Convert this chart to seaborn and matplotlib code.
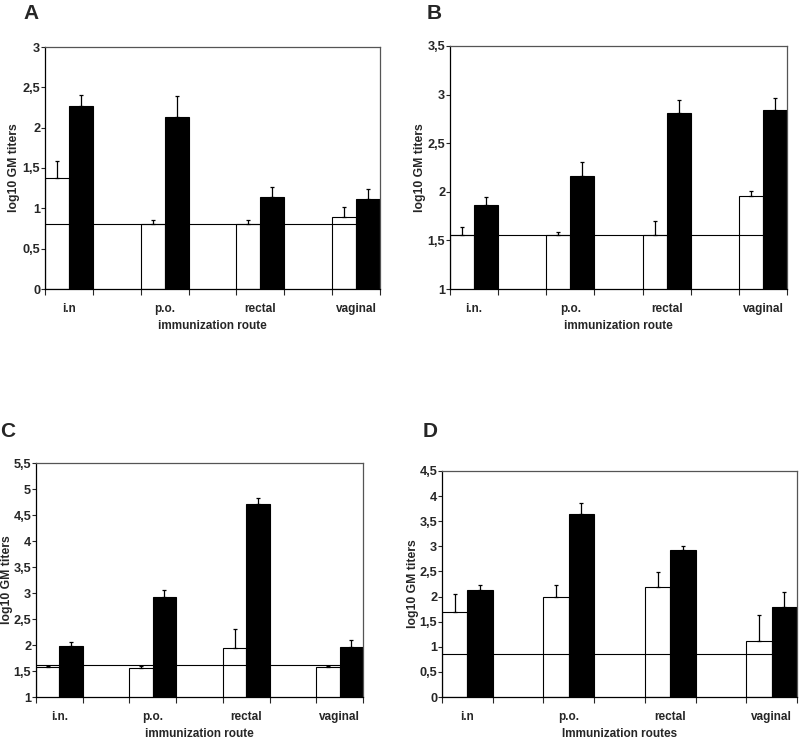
import seaborn as sns
import pandas as pd
import matplotlib.pyplot as plt
from matplotlib.ticker import FixedLocator, FuncFormatter, MultipleLocator

# Immunization routes shown on the x axis of each panel.
routes_a = ["i.n", "p.o.", "rectal", "vaginal"]
routes_b = ["i.n.", "p.o.", "rectal", "vaginal"]
routes_c = ["i.n.", "p.o.", "rectal", "vaginal"]
routes_d = ["i.n", "p.o.", "rectal", "vaginal"]

# log10 GM titers (white = pre-immune, black = post-immunization) and upper error.
a_white = [1.38, 0.80, 0.80, 0.89]
a_white_err = [0.21, 0.05, 0.05, 0.13]
a_black = [2.27, 2.13, 1.14, 1.11]
a_black_err = [0.13, 0.26, 0.12, 0.13]
a_line = 0.80

b_white = [1.56, 1.56, 1.56, 1.96]
b_white_err = [0.08, 0.03, 0.14, 0.05]
b_black = [1.86, 2.16, 2.81, 2.84]
b_black_err = [0.09, 0.15, 0.13, 0.12]
b_line = 1.56

c_white = [1.58, 1.56, 1.94, 1.58]
c_white_err = [0.02, 0.03, 0.37, 0.02]
c_black = [1.99, 2.92, 4.71, 1.97]
c_black_err = [0.07, 0.14, 0.12, 0.12]
c_line = 1.62

d_white = [1.69, 2.00, 2.20, 1.12]
d_white_err = [0.37, 0.23, 0.28, 0.51]
d_black = [2.14, 3.65, 2.92, 1.80]
d_black_err = [0.09, 0.22, 0.08, 0.30]
d_line = 0.85

sns.set_style("ticks")
plt.rcParams['font.family'] = ['Liberation Sans', 'DejaVu Sans']

fig = plt.figure(figsize=(8, 7.39), dpi=100)


def comma(v, pos):
    return ("%g" % v).replace(".", ",")


def make_panel(rect, routes, white, white_err, black, black_err, line, ylim, xlabel,
               ylabel_x, letter, letter_xy):
    ax = fig.add_axes(rect)
    df = pd.DataFrame({
        "route": routes * 2,
        "group": ["pre"] * 4 + ["post"] * 4,
        "value": white + black,
    })
    sns.barplot(data=df, x="route", y="value", hue="group", order=routes,
                hue_order=["pre", "post"], palette={"pre": "white", "post": "black"},
                edgecolor="black", linewidth=0.8, width=0.5, legend=False, ax=ax)

    # Upward-only error bars.
    xs = list(range(len(routes)))
    ax.errorbar([x - 0.125 for x in xs], white, yerr=[[0] * 4, white_err], fmt="none",
                ecolor="black", elinewidth=0.9, capsize=1.5, capthick=0.9)
    ax.errorbar([x + 0.125 for x in xs], black, yerr=[[0] * 4, black_err], fmt="none",
                ecolor="black", elinewidth=0.9, capsize=1.5, capthick=0.9)

    ax.axhline(line, color="black", lw=0.8)

    ax.set_xlim(-0.25, 3.25)
    ax.set_ylim(*ylim)
    ax.yaxis.set_major_locator(MultipleLocator(0.5))
    ax.yaxis.set_major_formatter(FuncFormatter(comma))
    ax.xaxis.set_minor_locator(FixedLocator([-0.25 + 0.5 * k for k in range(8)]))
    ax.tick_params(axis="x", which="major", length=0, pad=10)
    ax.tick_params(axis="x", which="minor", length=4, width=0.8, direction="out")
    ax.tick_params(axis="y", length=3, width=0.8, direction="out", pad=0.5)
    for lab in ax.get_xticklabels():
        lab.set_family(["Liberation Sans Narrow", "Liberation Sans"])
        lab.set_fontsize(8.5)
        lab.set_fontweight("bold")
    for lab in ax.get_yticklabels():
        lab.set_fontsize(9.2)
        lab.set_fontweight("bold")

    ax.set_ylabel("log10 GM titers", fontsize=8.8, fontweight="bold")
    ax.yaxis.set_label_coords(ylabel_x, 0.5)
    ax.set_xlabel(xlabel, fontsize=8.5, fontweight="bold", labelpad=4,
                  family=["Liberation Sans Narrow", "Liberation Sans"])

    for side in ["left", "bottom"]:
        ax.spines[side].set_color("black")
        ax.spines[side].set_linewidth(0.9)
    for side in ["top", "right"]:
        ax.spines[side].set_color("#555555")
        ax.spines[side].set_linewidth(0.9)

    fig.text(letter_xy[0] / 800, 1 - letter_xy[1] / 739, letter, fontsize=15,
             fontweight="bold", ha="left", va="top")
    return ax


make_panel([45 / 800, 1 - 289 / 739, 335 / 800, 242 / 739], routes_a,
           a_white, a_white_err, a_black, a_black_err, a_line, (0, 3),
           "immunization route", -0.075, "A", (23, 4))
make_panel([450 / 800, 1 - 289 / 739, 337 / 800, 243 / 739], routes_b,
           b_white, b_white_err, b_black, b_black_err, b_line, (1, 3.5),
           "immunization route", -0.07, "B", (427, 4))
make_panel([36 / 800, 1 - 697 / 739, 327 / 800, 234 / 739], routes_c,
           c_white, c_white_err, c_black, c_black_err, c_line, (1, 5.5),
           "immunization route", -0.069, "C", (0, 422))
make_panel([442 / 800, 1 - 697 / 739, 355 / 800, 226 / 739], routes_d,
           d_white, d_white_err, d_black, d_black_err, d_line, (0, 4.5),
           "Immunization routes", -0.066, "D", (423, 422))

plt.savefig("out.png", dpi=100)
